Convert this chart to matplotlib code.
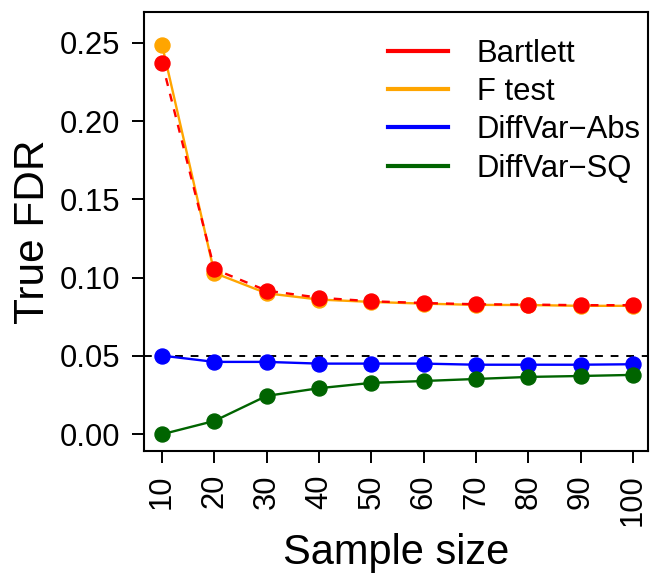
import matplotlib
matplotlib.use("Agg")
import matplotlib.pyplot as plt
from matplotlib.lines import Line2D

plt.rcParams['font.family'] = ['Liberation Sans', 'DejaVu Sans']

sample_size = [10, 20, 30, 40, 50, 60, 70, 80, 90, 100]
bartlett = [0.2373, 0.1054, 0.0917, 0.0872, 0.0849, 0.0838, 0.0830, 0.0828, 0.0824, 0.0824]
f_test = [0.2486, 0.1030, 0.0900, 0.0860, 0.0845, 0.0834, 0.0826, 0.0825, 0.0820, 0.0820]
diffvar_abs = [0.0502, 0.0462, 0.0462, 0.0451, 0.0451, 0.0451, 0.0444, 0.0444, 0.0444, 0.0447]
diffvar_sq = [0.0000, 0.0085, 0.0245, 0.0294, 0.0328, 0.0340, 0.0353, 0.0366, 0.0372, 0.0379]
y_ticks = [0.00, 0.05, 0.10, 0.15, 0.20, 0.25]
nominal_fdr = 0.05
labels = ['Bartlett', 'F test', 'DiffVar\u2212Abs', 'DiffVar\u2212SQ']
colors = ['red', 'orange', 'blue', 'darkgreen']

W, H = 652, 576
fig = plt.figure(figsize=(W / 100, H / 100), dpi=100)
L, R, T, B = 143.5, 648, 12, 450.7
ax = fig.add_axes([L / W, (H - B) / H, (R - L) / W, (B - T) / H])

ms = 10.8
lw = 1.7
ax.axhline(nominal_fdr, color='black', linestyle=(0, (4, 4)), lw=1.4, zorder=1)
ax.plot(sample_size, f_test, color=colors[1], lw=lw, marker='o', ms=ms, zorder=2)
ax.plot(sample_size, bartlett, color=colors[0], lw=lw, linestyle=(0, (3.4, 3.4)), marker='o', ms=ms, zorder=3)
ax.plot(sample_size, diffvar_abs, color=colors[2], lw=lw, marker='o', ms=ms, zorder=3)
ax.plot(sample_size, diffvar_sq, color=colors[3], lw=lw, marker='o', ms=ms, zorder=3)

ax.set_xlim(6.45, 102.9)
ax.set_ylim(-0.0105, 0.2696)
ax.set_xticks(sample_size)
ax.set_xticklabels([str(s) for s in sample_size], rotation=90)
ax.set_yticks(y_ticks)
ax.set_yticklabels([f"{v:.2f}" for v in y_ticks])
ax.tick_params(axis='both', labelsize=22.3, length=8.6, width=1.4, pad=8.2)
for s in ax.spines.values():
    s.set_linewidth(1.5)

ax.set_xlabel('Sample size', fontsize=30, labelpad=5)
ax.set_ylabel('True FDR', fontsize=30.5, labelpad=5)

handles = [Line2D([], [], color=c, lw=3) for c in colors]
leg = fig.legend(handles, labels, loc='upper left', bbox_to_anchor=(388 / W, 1 - 38.5 / H),
                 frameon=False, fontsize=22.3, handlelength=1.95, handletextpad=0.92,
                 labelspacing=0.27, borderpad=0, borderaxespad=0)

fig.savefig('out.png', dpi=100)
